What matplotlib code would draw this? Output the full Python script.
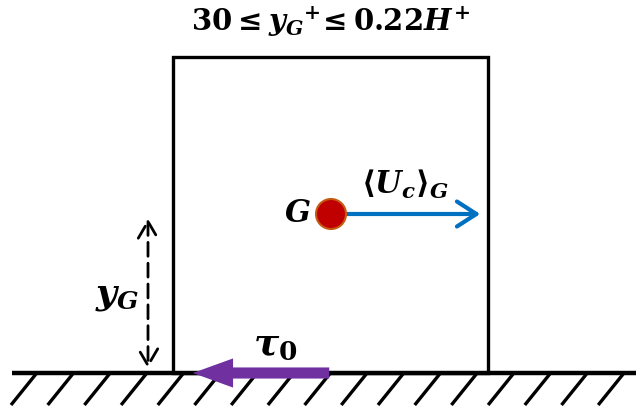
import matplotlib
matplotlib.use("Agg")
import matplotlib.pyplot as plt
from matplotlib.patches import Circle, FancyArrowPatch, Rectangle
import numpy as np

plt.rcParams['mathtext.fontset'] = 'custom'
plt.rcParams['mathtext.rm'] = 'DejaVu Serif:bold'
plt.rcParams['mathtext.it'] = 'DejaVu Serif:italic:bold'
plt.rcParams['mathtext.bf'] = 'DejaVu Serif:bold'

# etiquetas del esquema
titulo = r'$\mathbf{30} \leq y_G{}^{+}\!\leq \mathbf{0.22}H^{+}$'
etiqueta_g = r'$G$'
etiqueta_u = '\u27e8' + r'$U_c$' + '\u27e9' + r'$_G$'
etiqueta_y = r'$y_G$'
etiqueta_tau = r'$\tau_\mathbf{0}$'

# posiciones de las rayas del suelo (px)
rayas_x = np.arange(36, 636, 36.7)

fig = plt.figure(figsize=(6.36, 4.12), dpi=100)
ax = fig.add_axes([0, 0, 1, 1])
ax.set_xlim(0, 636)
ax.set_ylim(412, 0)
ax.axis('off')

# suelo
ax.plot([12, 636], [373, 373], color='black', lw=3.2, solid_capstyle='butt', zorder=2)
for x in rayas_x:
    ax.plot([x, x - 25], [374, 405], color='black', lw=2.4, solid_capstyle='butt')

# caja
ax.add_patch(Rectangle((173, 57), 315, 316, fill=False, ec='black', lw=2.4, zorder=2))

# vector velocidad
ax.add_patch(FancyArrowPatch((331, 214), (483, 214), arrowstyle='->,head_length=14,head_width=9',
                             color='#0070c0', lw=3, mutation_scale=1, zorder=3))
ax.add_patch(Circle((331, 214), 15, fc='#c00000', ec='#c55a11', lw=1.5, zorder=4))

# cota y_G
ax.add_patch(FancyArrowPatch((148, 216), (148, 371), arrowstyle='<->,head_length=12,head_width=7',
                             color='black', lw=2, ls=(0, (5, 2.5)), mutation_scale=1, zorder=3))

# esfuerzo en la pared
ax.add_patch(FancyArrowPatch((332, 373), (190, 373), arrowstyle='simple,head_length=29,head_width=21,tail_width=8',
                             color='#7030a0', lw=0, mutation_scale=1, zorder=3))

ax.text(330, 22, titulo, fontsize=21, ha='center', va='center')
ax.text(297, 213, etiqueta_g, fontsize=22, ha='center', va='center')
ax.text(405, 184, etiqueta_u, fontsize=22, ha='center', va='center',
        family='DejaVu Sans', fontweight='bold')
ax.text(117, 296, etiqueta_y, fontsize=26, ha='center', va='center')
ax.text(275, 344, etiqueta_tau, fontsize=27, ha='center', va='center')

fig.savefig('out.png', dpi=100)
